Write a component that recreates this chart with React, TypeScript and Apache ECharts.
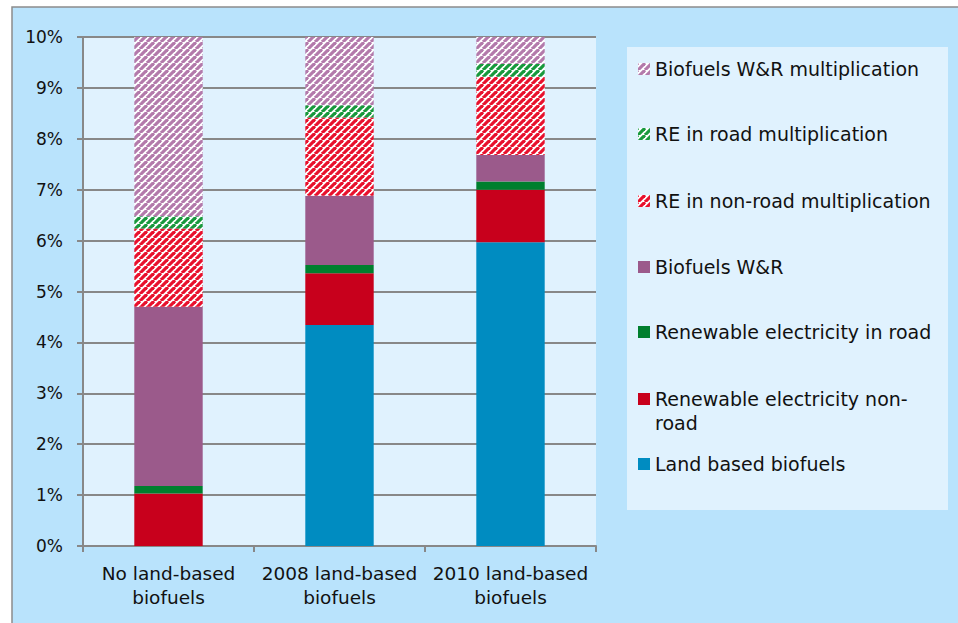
import React, { useEffect, useRef } from "react";
import * as echarts from "echarts";

const categories = ["No land-based\nbiofuels", "2008 land-based\nbiofuels", "2010 land-based\nbiofuels"];
const yTicks = ["0%", "1%", "2%", "3%", "4%", "5%", "6%", "7%", "8%", "9%", "10%"];

const landBased = [0, 4.34, 5.97];
const reNonRoad = [1.03, 1.02, 1.03];
const reRoad = [0.15, 0.16, 0.16];
const biofuelsWR = [3.52, 1.36, 0.52];
const reNonRoadMult = [1.54, 1.54, 1.54];
const reRoadMult = [0.24, 0.24, 0.25];
const biofuelsWRMult = [3.52, 1.34, 0.53];

const FONT = "DejaVu Sans";

function stripe(color: string) {
  const s = 7;
  const c = document.createElement("canvas");
  c.width = s;
  c.height = s;
  const ctx = c.getContext("2d")!;
  ctx.fillStyle = "#ffffff";
  ctx.fillRect(0, 0, s, s);
  ctx.strokeStyle = color;
  ctx.lineWidth = 3.2;
  for (const k of [-1, 0, 1]) {
    ctx.beginPath();
    ctx.moveTo(k * s, s);
    ctx.lineTo(k * s + s, 0);
    ctx.stroke();
  }
  return { image: c, repeat: "repeat" } as any;
}

export default function App() {
  const ref = useRef<HTMLDivElement>(null);
  useEffect(() => {
    if (!ref.current) return;
    const chart = echarts.init(ref.current, undefined, { renderer: "svg" });

    const seriesDefs = [
      { name: "Land based biofuels", data: landBased, color: "#008cc1" },
      { name: "Renewable electricity non-road", data: reNonRoad, color: "#c8001c" },
      { name: "Renewable electricity in road", data: reRoad, color: "#007f2e" },
      { name: "Biofuels W&R", data: biofuelsWR, color: "#9b5a8b" },
      { name: "RE in non-road multiplication", data: reNonRoadMult, color: stripe("#e8112d") },
      { name: "RE in road multiplication", data: reRoadMult, color: stripe("#18993c") },
      { name: "Biofuels W&R multiplication", data: biofuelsWRMult, color: stripe("#b37aab") },
    ];

    const legendOrder = [
      { name: "Biofuels W&R multiplication", top: 57 },
      { name: "RE in road multiplication", top: 122 },
      { name: "RE in non-road multiplication", top: 189 },
      { name: "Biofuels W&R", top: 255 },
      { name: "Renewable electricity in road", top: 320 },
      { name: "Renewable electricity non-road", top: 363 },
      { name: "Land based biofuels", top: 452 },
    ];

    const legends = legendOrder.map((l) => {
      const two = l.name === "Renewable electricity non-road";
      return {
        data: [l.name],
        left: 638,
        top: l.top,
        padding: 0,
        orient: "vertical",
        icon: "rect",
        itemWidth: 12,
        itemHeight: 12,
        selectedMode: false,
        formatter: two ? () => " \nRenewable electricity non-\nroad" : undefined,
        textStyle: {
          fontFamily: FONT,
          fontSize: 19,
          color: "#111",
          lineHeight: 24,
        },
      };
    });

    chart.setOption({
      animation: false,
      backgroundColor: "#ffffff",
      graphic: [
        {
          type: "rect",
          z: -10,
          shape: { x: 12, y: 7, width: 980, height: 640 },
          style: { fill: "#b9e3fc", stroke: "#8c8c8c", lineWidth: 1.5 },
          silent: true,
        },
        {
          type: "rect",
          z: -9,
          shape: { x: 627, y: 47, width: 321, height: 463 },
          style: { fill: "#e0f2fe" },
          silent: true,
        },
      ],
      legend: legends,
      grid: {
        left: 83,
        top: 37,
        width: 513,
        height: 509,
        show: true,
        backgroundColor: "#e0f2fe",
        borderWidth: 0,
        containLabel: false,
      },
      xAxis: {
        type: "category",
        data: categories,
        axisLine: { show: true, lineStyle: { color: "#888888", width: 2 } },
        axisTick: { show: true, length: 6, alignWithLabel: false, lineStyle: { color: "#888888", width: 2 } },
        axisLabel: {
          fontFamily: FONT,
          fontSize: 18.5,
          color: "#111",
          lineHeight: 24,
          margin: 15,
          interval: 0,
        },
        splitLine: { show: false },
      },
      yAxis: {
        type: "value",
        min: 0,
        max: 10,
        interval: 1,
        axisLine: { show: true, lineStyle: { color: "#888888", width: 2 } },
        axisTick: { show: true, length: 6, lineStyle: { color: "#888888", width: 2 } },
        axisLabel: {
          fontFamily: FONT,
          fontSize: 17,
          color: "#111",
          margin: 20,
          formatter: (v: number) => yTicks[Math.round(v)] ?? "",
        },
        splitLine: { show: true, lineStyle: { color: "#888888", width: 2 } },
      },
      series: seriesDefs.map((s) => ({
        name: s.name,
        type: "bar",
        stack: "total",
        barWidth: "40%",
        data: s.data,
        itemStyle: { color: s.color, borderWidth: 0 },
        emphasis: { disabled: true },
      })),
    });

    return () => chart.dispose();
  }, []);

  return (
    <div
      ref={ref}
      style={{ position: "fixed", left: 0, top: 0, width: 958, height: 623 }}
    />
  );
}
